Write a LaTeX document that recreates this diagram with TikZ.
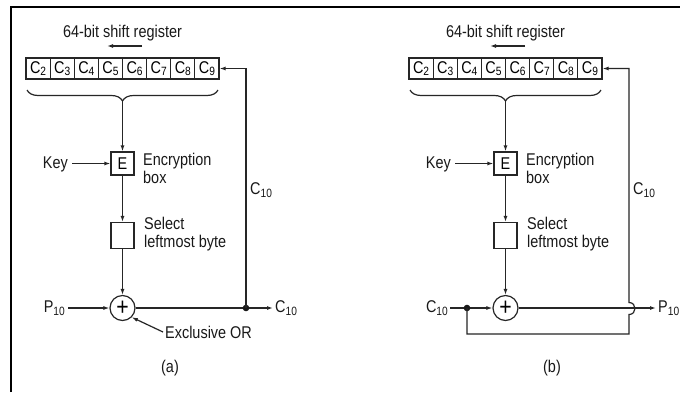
\documentclass[tikz,border=0pt]{standalone}
\usepackage{fontspec}
\setmainfont{Liberation Sans}[FakeStretch=0.85]
\usetikzlibrary{arrows.meta,decorations.pathreplacing}
\newcommand\sbs[1]{\raisebox{-0.3ex}{\fontsize{12}{12}\selectfont #1}}
\tikzset{
  ln/.style={line width=1.2pt, draw=black!85},
  arr/.style={ln, -{Latex[length=6pt,width=4pt]}},
  cell/.style={ln, minimum width=24.125pt, minimum height=21pt, inner sep=0pt},
  ebox/.style={ln, minimum width=23pt, minimum height=23pt, inner sep=0pt},
  sbox/.style={ln, minimum width=23pt, minimum height=26pt, inner sep=0pt},
  xorc/.style={ln, circle, minimum size=25pt, inner sep=0pt, font=\fontsize{25}{25}\selectfont},
  lbl/.style={inner sep=0pt, text=black!90},
  two/.style={lbl, anchor=north west, align=left, font=\fontsize{17}{17.5}\selectfont},
  brc/.style={ln, decorate, decoration={brace, mirror, amplitude=11pt}},
  dotc/.style={fill=black!90}
}
\begin{document}
\begin{tikzpicture}[x=1pt, y=-1pt, font=\fontsize{17}{15}\selectfont]
\useasboundingbox (0,0) rectangle (680,392);
\fill[white] (0,0) rectangle (680,392);
% frame
\draw[line width=2.3pt] (11.2,392) -- (11.2,6.7) -- (680,6.7);

% ================= panel (a) =================
\node[lbl] (atitle) at (122.5,33) {64-bit shift register};
\coordinate (aarS) at (142,46);
\coordinate (aarE) at (107,46);
\draw[arr] (aarS) -- (aarE);
\foreach \i in {2,...,9} {
  \node[cell] (ac\i) at ({26+24.125*(\i-1.5)},68.5) {C\sbs{\i}};
}
\coordinate (abL) at (27,90);
\coordinate (abR) at (218,90);
\draw[brc] (abL) -- (abR);
\coordinate (atip) at (122.5,101);
\node[ebox] (aE) at (122.5,163.5) {E};
\node[sbox] (aS) at (122.5,235.5) {};
\node[xorc] (ax) at (122.5,308) {+};
\draw[arr] (atip) -- (aE.north);
\draw[arr] (aE.south) -- (aS.north);
\draw[arr] (aS.south) -- (ax.north);
\node[lbl, anchor=east] (akey) at (68,164) {Key};
\draw[arr] ([xshift=4pt]akey.east |- aE) -- (aE.west);
\node[two] (aenc) at (143,153) {Encryption\\box};
\node[two] (asel) at (144,217) {Select\\leftmost byte};
\node[lbl, anchor=east] (ap) at (65,308) {P\sbs{10}};
\draw[arr] ([xshift=3pt]ap.east |- ax) -- (ax.west);
\coordinate (adot) at (246,308);
\node[lbl, anchor=west] (aout) at (275,308) {C\sbs{10}};
\draw[arr] (ax.east) -- ([xshift=-2pt]aout.west |- ax);
\fill[dotc] (adot) circle (3.3);
\draw[arr] (adot) |- (ac9.east);
\node[lbl, anchor=west] (afb) at (250,190) {C\sbs{10}};
\node[lbl, anchor=west] (axl) at (165,332) {Exclusive OR};
\draw[arr] ([xshift=-2pt]axl.west) -- (ax.south east);
\node[lbl] (acap) at (170,368) {(a)};

% ================= panel (b) =================
\begin{scope}[xshift=383pt]
\node[lbl] (btitle) at (122.5,33) {64-bit shift register};
\coordinate (barS) at (142,46);
\coordinate (barE) at (107,46);
\draw[arr] (barS) -- (barE);
\foreach \i in {2,...,9} {
  \node[cell] (bc\i) at ({26+24.125*(\i-1.5)},68.5) {C\sbs{\i}};
}
\coordinate (bbL) at (27,90);
\coordinate (bbR) at (218,90);
\draw[brc] (bbL) -- (bbR);
\coordinate (btip) at (122.5,101);
\node[ebox] (bE) at (122.5,163.5) {E};
\node[sbox] (bS) at (122.5,235.5) {};
\node[xorc] (bx) at (122.5,308) {+};
\draw[arr] (btip) -- (bE.north);
\draw[arr] (bE.south) -- (bS.north);
\draw[arr] (bS.south) -- (bx.north);
\node[lbl, anchor=east] (bkey) at (68,164) {Key};
\draw[arr] ([xshift=4pt]bkey.east |- bE) -- (bE.west);
\node[two] (benc) at (143,153) {Encryption\\box};
\node[two] (bsel) at (144,217) {Select\\leftmost byte};
\node[lbl, anchor=east] (bin) at (65,308) {C\sbs{10}};
\coordinate (bdot) at (84,308);
\draw[ln] ([xshift=2pt]bin.east |- bx) -- (bdot);
\draw[arr] (bdot) -- (bx.west);
\fill[dotc] (bdot) circle (3.3);
\node[lbl, anchor=west] (bout) at (275,308) {P\sbs{10}};
\draw[arr] (bx.east) -- ([xshift=-2pt]bout.west |- bx);
\coordinate (bloopL) at (84,334);
\coordinate (bhopB) at (246,314.5);
\coordinate (bhopT) at (246,302.5);
\draw[arr] (bdot) -- (bloopL) -| (bhopB)
  .. controls (254,314.5) and (254,302.5) .. (bhopT) |- (bc9.east);
\node[lbl, anchor=west] (bfb) at (250,190) {C\sbs{10}};
\node[lbl] (bcap) at (169,368) {(b)};
\end{scope}
\end{tikzpicture}
\end{document}
